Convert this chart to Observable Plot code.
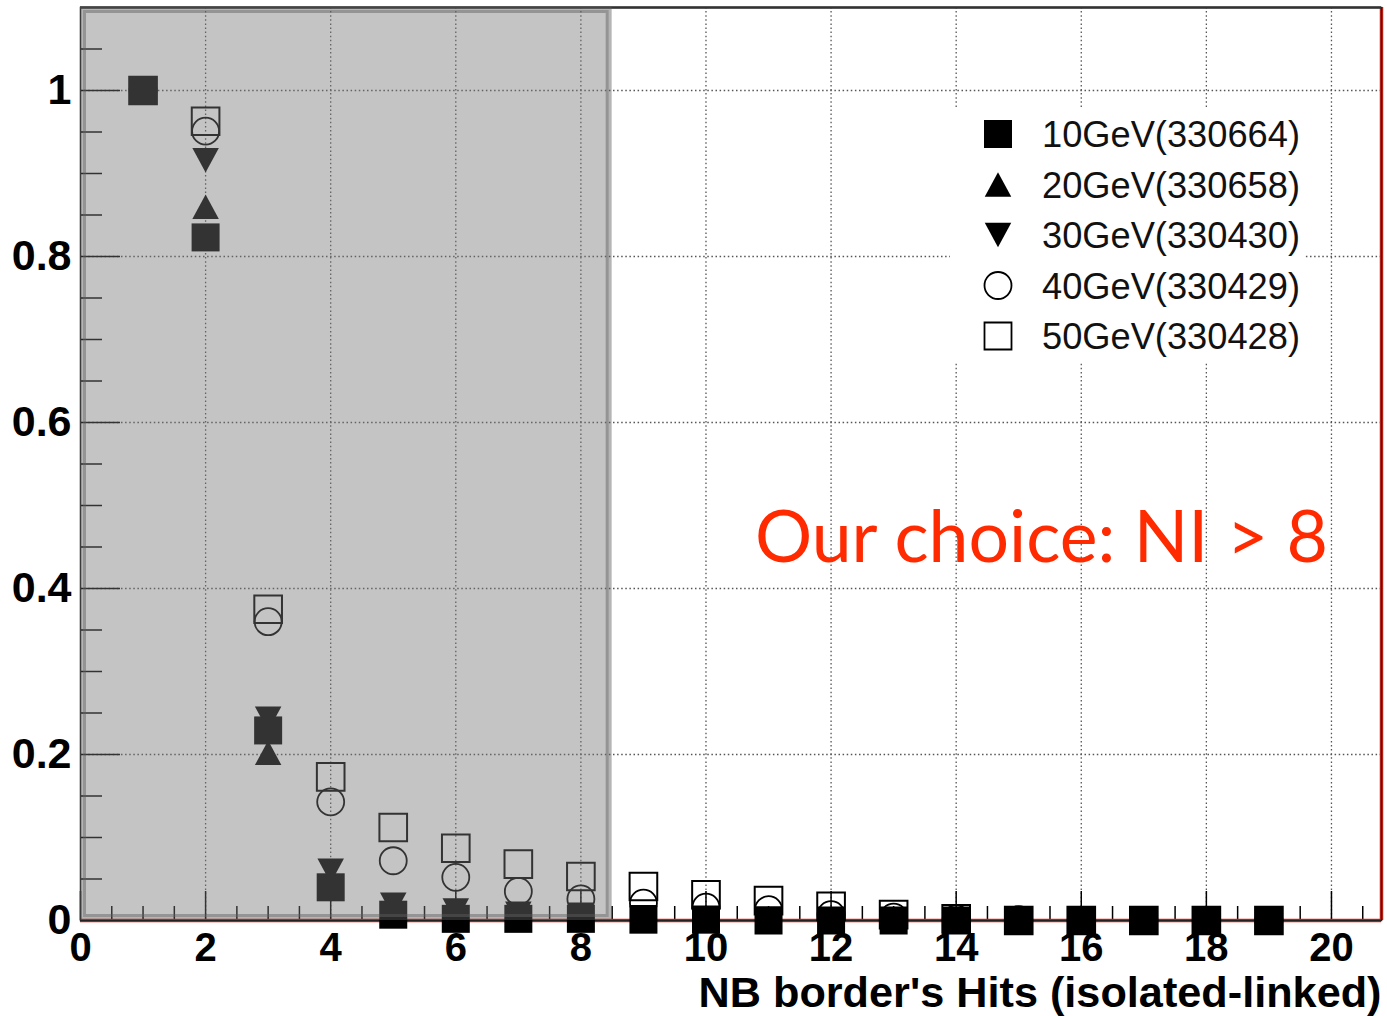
<!DOCTYPE html>
<html>
<head>
<meta charset="utf-8">
<script src="https://cdn.jsdelivr.net/npm/d3@7"></script>
<script src="https://cdn.jsdelivr.net/npm/@observablehq/plot@0.6"></script>
<style>
  html, body { margin: 0; padding: 0; background: #fff; }
  #wrap { position: relative; width: 1387px; height: 1016px; overflow: hidden; }
  #overlay { position: absolute; left: 0; top: 0; pointer-events: none; }
</style>
</head>
<body>
<div id="wrap"></div>
<script>
// ---------------- data ----------------
const nbHits = [1, 2, 3, 4, 5, 6, 7, 8, 9, 10, 11, 12, 13, 14, 15, 16, 17, 18, 19];
const e10GeV = [1.0, 0.823, 0.229, 0.040, 0.007, 0.002, 0.002, 0.002, 0.001, 0.001, 0.0, 0.0, 0.0, 0.0, 0.0, 0.0, 0.0, 0.0, 0.0];
const e20GeV = [1.0, 0.860, 0.202, 0.045, 0.010, 0.006, 0.004, 0.003, 0.002, 0.001, 0.001, 0.0, 0.0, 0.0, 0.0, 0.0, 0.0, 0.0, 0.0];
const e30GeV = [1.0, 0.916, 0.243, 0.060, 0.019, 0.012, 0.008, 0.007, 0.004, 0.003, 0.002, 0.001, 0.0, 0.0, 0.0, 0.0, 0.0, 0.0, 0.0];
const e40GeV = [1.0, 0.951, 0.360, 0.143, 0.072, 0.052, 0.035, 0.026, 0.021, 0.016, 0.013, 0.007, 0.004, 0.002, 0.001, 0.0, 0.0, 0.0, 0.0];
const e50GeV = [1.0, 0.963, 0.375, 0.173, 0.112, 0.087, 0.068, 0.053, 0.041, 0.031, 0.024, 0.017, 0.007, 0.002, 0.0, 0.0, 0.0, 0.0, 0.0];
const seriesNames = ["10GeV(330664)", "20GeV(330658)", "30GeV(330430)", "40GeV(330429)", "50GeV(330428)"];

const xDomain = [0, 20.8];
const yDomain = [0, 1.1];
const xTickLabels = [0, 2, 4, 6, 8, 10, 12, 14, 16, 18, 20];
const yTickLabels = [0, 0.2, 0.4, 0.6, 0.8, 1];
const xGrid = [2, 4, 6, 8, 10, 12, 14, 16, 18, 20];
const yGrid = [0.2, 0.4, 0.6, 0.8, 1.0];
const xMinor = d3.range(0.5, 20.8, 0.5).filter(v => v % 2 !== 0);
const yMinor = d3.range(0.05, 1.1, 0.05).filter(v => Math.abs(v * 5 - Math.round(v * 5)) > 1e-6);
const shadedRange = [0, 8.5];
const xTitle = "NB border's Hits (isolated-linked)";
const annotation = "Our choice: NI > 8";

// ---------------- layout ----------------
const W = 1387, H = 1016;
const mL = 80, mR = 6, mT = 7, mB = 96;
const plotW = W - mL - mR, plotH = H - mT - mB;
const FONT = "'Liberation Sans', Arial, Helvetica, sans-serif";

const rows = vals => nbHits.map((x, i) => ({x, y: vals[i]}));

const triUp = {draw(ctx, size) { const r = Math.sqrt(size / Math.PI); const w = r * 1.3, h = r * 1.2;
  ctx.moveTo(0, -h); ctx.lineTo(w, h); ctx.lineTo(-w, h); ctx.closePath(); }};
const triDown = {draw(ctx, size) { const r = Math.sqrt(size / Math.PI); const w = r * 1.3, h = r * 1.2;
  ctx.moveTo(0, h); ctx.lineTo(w, -h); ctx.lineTo(-w, -h); ctx.closePath(); }};

const grid = {stroke: "#555", strokeWidth: 1.3, strokeDasharray: "1.5,2.6"};

const chart = Plot.plot({
  width: W, height: H,
  marginLeft: mL, marginRight: mR, marginTop: mT, marginBottom: mB,
  x: {domain: xDomain, range: [mL, W - mR]},
  y: {domain: yDomain, range: [H - mB, mT]},
  style: {fontFamily: FONT, fontWeight: "bold", color: "#000", background: "#fff", overflow: "visible"},
  marks: [
    Plot.ruleX(xGrid, {x: d => d, ...grid}),
    Plot.ruleY(yGrid, {y: d => d, ...grid}),
    Plot.tickY(yTickLabels, {y: d => d, insetRight: plotW - 40, stroke: "#000", strokeWidth: 1.5}),
    Plot.tickY(yMinor, {y: d => d, insetRight: plotW - 22, stroke: "#000", strokeWidth: 1.5}),
    Plot.tickX(xTickLabels, {x: d => d, insetTop: plotH - 29, stroke: "#000", strokeWidth: 1.5}),
    Plot.tickX(xMinor, {x: d => d, insetTop: plotH - 14, stroke: "#000", strokeWidth: 1.5}),
    Plot.ruleY([yDomain[0]], {y: d => d, stroke: "#dd2211", strokeWidth: 3.5}),
    Plot.ruleX([xDomain[1]], {x: d => d, stroke: "#dd2211", strokeWidth: 3.5}),
    Plot.frame({stroke: "#222", strokeWidth: 1.5}),
    Plot.ruleY([yDomain[1]], {y: d => d, stroke: "#333", strokeWidth: 2.5}),
    // data (open markers first, filled ones on top)
    Plot.dot(rows(e50GeV), {x: "x", y: "y", symbol: "square", r: 15.6, fill: "none", stroke: "#000", strokeWidth: 2}),
    Plot.dot(rows(e40GeV), {x: "x", y: "y", symbol: "circle", r: 13.5, fill: "none", stroke: "#000", strokeWidth: 1.8}),
    Plot.dot(rows(e30GeV), {x: "x", y: "y", symbol: triDown, r: 10.2, fill: "#000", stroke: "none"}),
    Plot.dot(rows(e20GeV), {x: "x", y: "y", symbol: triUp, r: 10.2, fill: "#000", stroke: "none"}),
    Plot.dot(rows(e10GeV), {x: "x", y: "y", symbol: "square", r: 15.8, fill: "#000", stroke: "none"}),
    // shaded excluded region (semi-transparent overlay)
    Plot.rect([shadedRange], {x1: d => d[0], x2: d => d[1], y1: yDomain[0], y2: yDomain[1],
      fill: "rgb(118,118,118)", fillOpacity: 0.43, stroke: "rgb(90,90,90)", strokeOpacity: 0.45, strokeWidth: 6, inset: 3}),
    Plot.axisX(xTickLabels, {tickSize: 0, tickPadding: 12, fontSize: 40, fontWeight: "bold", label: null}),
    Plot.axisY(yTickLabels, {tickSize: 0, tickPadding: 9, fontSize: 43, fontWeight: "bold", label: null,
      tickFormat: d => String(d)}),
    Plot.text([xTitle], {frameAnchor: "bottom-right", text: d => d, dy: 73, dx: 0, textAnchor: "end",
      lineAnchor: "middle", fontSize: 42, fontWeight: "bold", fill: "#000"})
  ]
});
document.getElementById("wrap").appendChild(chart);
d3.select(chart).selectAll("text").filter(function() { return this.textContent === xTitle; })
  .attr("textLength", 683).attr("lengthAdjust", "spacingAndGlyphs");

// ---------------- legend + annotation overlay ----------------
const ov = d3.select("#wrap").append("svg").attr("id", "overlay").attr("width", W).attr("height", H);
ov.append("rect").attr("x", 950).attr("y", 108).attr("width", 354).attr("height", 255).attr("fill", "#fff");
const legendSymbols = [
  {type: d3.symbolSquare, size: 28 * 28, fill: "#000", stroke: "none"},
  {type: triUp, size: Math.PI * 10.2 * 10.2, fill: "#000", stroke: "none"},
  {type: triDown, size: Math.PI * 10.2 * 10.2, fill: "#000", stroke: "none"},
  {type: d3.symbolCircle, size: Math.PI * 13.5 * 13.5, fill: "none", stroke: "#000"},
  {type: d3.symbolSquare, size: 27 * 27, fill: "none", stroke: "#000"}
];
seriesNames.forEach((name, i) => {
  const cy = 134 + i * 50.5;
  const s = legendSymbols[i];
  ov.append("path").attr("transform", `translate(998,${cy})`)
    .attr("d", d3.symbol(s.type, s.size)())
    .attr("fill", s.fill).attr("stroke", s.stroke).attr("stroke-width", 1.8);
  ov.append("text").attr("x", 1042).attr("y", cy + 13)
    .attr("font-family", FONT).attr("font-size", 36).attr("fill", "#111")
    .attr("textLength", 258).attr("lengthAdjust", "spacingAndGlyphs")
    .text(name);
});
ov.append("text").attr("x", 755).attr("y", 562)
  .attr("font-family", "Lato, 'Open Sans', sans-serif").attr("font-size", 72).attr("fill", "#ff2a00")
  .attr("textLength", 573).attr("lengthAdjust", "spacingAndGlyphs")
  .text(annotation);
</script>
</body>
</html>
